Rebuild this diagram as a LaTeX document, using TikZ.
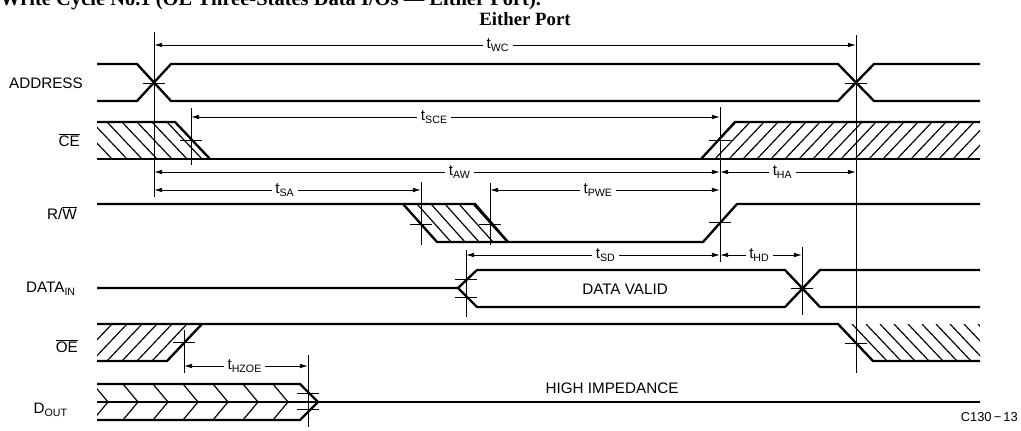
\documentclass[tikz,border=0pt]{standalone}
\usepackage{fontspec}
\setmainfont{Liberation Sans}
\newfontfamily\serifbold{Liberation Serif}
\usetikzlibrary{arrows.meta}
\newcommand{\ovl}[1]{$\overline{\mbox{#1}}$}

\begin{document}
\begin{tikzpicture}[
  x=0.03cm, y=-0.03cm,
  >={Latex[length=7pt,width=4pt]},
  sig/.style={line width=2pt},
  hatch/.style={line width=1pt},
  guide/.style={line width=0.8pt},
  dim/.style={<->, line width=0.8pt},
  lbl/.style={anchor=east, inner sep=0pt, font=\fontsize{13}{15}\selectfont},
  tlab/.style={fill=white, inner sep=3pt, font=\fontsize{13}{15}\selectfont},
  txt/.style={inner sep=0pt, font=\fontsize{13}{15}\selectfont},
  head/.style={inner sep=0pt, font=\serifbold\bfseries\fontsize{16}{18}\selectfont}
]
\useasboundingbox (0,0) rectangle (1021,431);

% Heading (cut off at the top)
\node[head, anchor=base west, font=\serifbold\bfseries\fontsize{17.5}{19}\selectfont] (title) at (0,6)
  {Write Cycle No.1 (\ovl{OE} Three-States Data I/Os — Either Port).};
\node[head, anchor=base] (port) at (525,26) {Either Port};

% Signal names
\node[lbl] (addr) at (83,83)  {ADDRESS};
\node[lbl] (ce)   at (80,140) {\ovl{CE}};
\node[lbl] (rw)   at (77,213) {R/\ovl{W}};
\node[lbl] (din)  at (76,289) {DATA\textsubscript{IN}};
\node[lbl] (oe)   at (78,346) {\ovl{OE}};
\node[lbl] (dout) at (68,410) {D\textsubscript{OUT}};

% Time marks
\foreach \n/\x in {ta/154, tc/856, tce/191, tb/720, tw1/421, tw2/490, td/466, th/802, toe/184, tz/308}
  \coordinate (\n) at (\x,0);

% ADDRESS
\draw[sig] (97,64) -- (137,64) -- (171,101) -- (838,101) -- (874,64) -- (980,64);
\draw[sig] (97,101) -- (137,101) -- (171,64) -- (838,64) -- (874,101) -- (980,101);

% CE
\begin{scope}
  \clip (97,122) -- (175,122) -- (210,159) -- (97,159) -- cycle;
  \foreach \x in {62,77,...,182} \draw[hatch] (\x,122) -- ++(35,37);
\end{scope}
\begin{scope}
  \clip (701,159) -- (735,122) -- (980,122) -- (980,159) -- cycle;
  \foreach \x in {701,715,...,981} \draw[hatch] (\x,159) -- ++(35,-37);
\end{scope}
\draw[sig] (97,122) -- (175,122) -- (210,159);
\draw[sig] (97,159) -- (980,159);
\draw[sig] (701,159) -- (735,122) -- (980,122);

% R/W
\begin{scope}
  \clip (403,204) -- (475,204) -- (508,242) -- (437,242) -- cycle;
  \foreach \x in {403,417,...,475} \draw[hatch] (\x,204) -- ++(34,38);
\end{scope}
\draw[sig] (97,204) -- (403,204) -- (437,242) -- (703,242) -- (737,204) -- (980,204);
\draw[sig] (403,204) -- (475,204) -- (508,242);

% DATA IN
\draw[sig] (97,288) -- (458,288) -- (477,270) -- (785,270) -- (820,307) -- (980,307);
\draw[sig] (458,288) -- (477,307) -- (785,307) -- (820,270) -- (980,270);
\node[txt] (valid) at (625,289) {DATA VALID};

% OE
\begin{scope}
  \clip (97,324) -- (202,324) -- (167,361) -- (97,361) -- cycle;
  \foreach \x in {62,77,...,167} \draw[hatch] (\x,361) -- ++(35,-37);
\end{scope}
\begin{scope}
  \clip (838,324) -- (980,324) -- (980,361) -- (873,361) -- cycle;
  \foreach \x in {838,852,...,980} \draw[hatch] (\x,324) -- ++(35,37);
\end{scope}
\draw[sig] (97,324) -- (838,324) -- (873,361) -- (980,361);
\draw[sig] (97,361) -- (167,361) -- (202,324);

% D OUT
\begin{scope}
  \clip (97,384) -- (300,384) -- (318,402) -- (300,420) -- (97,420) -- cycle;
  \foreach \x in {93,123,...,273} \draw[hatch] (\x,384) -- ++(15,18) -- ++(-15,18);
\end{scope}
\draw[sig] (97,384) -- (300,384) -- (318,402) -- (300,420) -- (97,420);
\draw[sig] (97,402) -- (980,402);
\node[txt] (hiz) at (612,388) {HIGH IMPEDANCE};

% Reference lines
\draw[guide] (ta |- 0,32)   -- (ta |- 0,197);
\draw[guide] (tc |- 0,35)   -- (tc |- 0,373);
\draw[guide] (tce |- 0,108) -- (tce |- 0,165);
\draw[guide] (tb |- 0,107)  -- (tb |- 0,262);
\draw[guide] (tw1 |- 0,182) -- (tw1 |- 0,245);
\draw[guide] (tw2 |- 0,183) -- (tw2 |- 0,245);
\draw[guide] (td |- 0,250)  -- (td |- 0,317);
\draw[guide] (th |- 0,247)  -- (th |- 0,315);
\draw[guide] (toe |- 0,330) -- (toe |- 0,373);
\draw[guide] (tz |- 0,355)  -- (tz |- 0,427);

% Crossing ticks
\foreach \x/\y in {154/83, 856/83, 191/140, 720/140, 421/224, 490/224, 720/222,
                   466/279, 466/297, 802/288, 184/342, 856/343, 308/393, 308/409}
  \draw[guide] (\x-11,\y) -- (\x+11,\y);

% Timing parameters
\draw[dim] (ta |- 0,45)   -- node[tlab, pos=0.49] (twc)  {t\textsubscript{WC}}   (tc |- 0,45);
\draw[dim] (tce |- 0,117) -- node[tlab, pos=0.46] (tsce) {t\textsubscript{SCE}}  (tb |- 0,117);
\draw[dim] (ta |- 0,172)  -- node[tlab, pos=0.54] (taw)  {t\textsubscript{AW}}   (tb |- 0,172);
\draw[dim] (tb |- 0,172)  -- node[tlab, pos=0.46] (tha)  {t\textsubscript{HA}}   (tc |- 0,172);
\draw[dim] (ta |- 0,190)  -- node[tlab, pos=0.49] (tsa)  {t\textsubscript{SA}}   (tw1 |- 0,190);
\draw[dim] (tw2 |- 0,190) -- node[tlab, pos=0.47] (tpwe) {t\textsubscript{PWE}}  (tb |- 0,190);
\draw[dim] (td |- 0,255)  -- node[tlab, pos=0.55] (tsd)  {t\textsubscript{SD}}   (tb |- 0,255);
\draw[dim] (tb |- 0,255)  -- node[tlab, pos=0.48] (thd)  {t\textsubscript{HD}}   (th |- 0,255);
\draw[dim] (toe |- 0,366) -- node[tlab, pos=0.49] (thzoe) {t\textsubscript{HZOE}} (tz |- 0,366);

\node[inner sep=0pt, anchor=east, font=\fontsize{11}{13}\selectfont] (fig) at (1018,417) {C130\,−\,13};

\end{tikzpicture}
\end{document}
